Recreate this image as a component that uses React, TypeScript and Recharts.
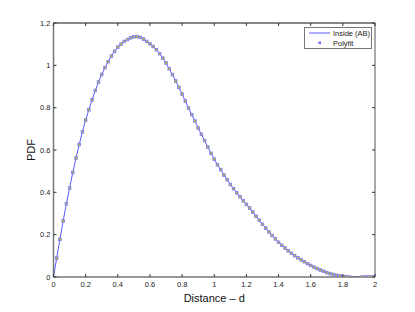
import React from "react";
import { LineChart, Line, XAxis, YAxis } from "recharts";

const distances: number[] = Array.from({ length: 101 }, (_, i) => Math.round(i * 2) / 100);

const insideAB: number[] = [
  0, 0.09, 0.178, 0.265, 0.346, 0.42, 0.494, 0.562, 0.626, 0.686,
  0.742, 0.79, 0.837, 0.881, 0.921, 0.957, 0.989, 1.017, 1.044, 1.066,
  1.086, 1.1, 1.113, 1.122, 1.13, 1.135, 1.136, 1.132, 1.124, 1.113,
  1.102, 1.089, 1.074, 1.055, 1.034, 1.011, 0.984, 0.956, 0.926, 0.896,
  0.864, 0.831, 0.798, 0.767, 0.737, 0.704, 0.674, 0.644, 0.614, 0.584,
  0.557, 0.53, 0.507, 0.482, 0.46, 0.437, 0.417, 0.398, 0.379, 0.36,
  0.343, 0.326, 0.307, 0.287, 0.268, 0.249, 0.231, 0.213, 0.196, 0.18,
  0.164, 0.15, 0.137, 0.124, 0.112, 0.101, 0.091, 0.081, 0.072, 0.063,
  0.055, 0.047, 0.04, 0.033, 0.027, 0.021, 0.016, 0.012, 0.008, 0.005,
  0.003, 0.001, 0, 0, 0, 0, 0, 0, 0, 0, 0,
];

const polyfit: (number | null)[] = [
  null, 0.09, 0.178, 0.265, 0.346, 0.42, 0.494, 0.562, 0.626, 0.686,
  0.742, 0.79, 0.837, 0.881, 0.921, 0.957, 0.989, 1.017, 1.044, 1.066,
  1.086, 1.1, 1.113, 1.122, 1.13, 1.135, 1.136, 1.132, 1.124, 1.113,
  1.102, 1.089, 1.074, 1.055, 1.034, 1.011, 0.984, 0.956, 0.926, 0.896,
  0.864, 0.831, 0.798, 0.767, 0.737, 0.704, 0.674, 0.644, 0.614, 0.584,
  0.557, 0.53, 0.507, 0.482, 0.46, 0.437, 0.417, 0.398, 0.379, 0.36,
  0.343, 0.326, 0.307, 0.287, 0.268, 0.249, 0.231, 0.213, 0.196, 0.18,
  0.164, 0.15, 0.137, 0.124, 0.112, 0.101, 0.091, 0.081, 0.072, 0.063,
  0.055, 0.047, 0.04, 0.033, 0.027, 0.021, 0.016, 0.012, 0.008, 0.005,
  0.003, 0.001, 0, null, null, null, 0, 0, 0, 0, 0,
];

const xTicks: number[] = [0, 0.2, 0.4, 0.6, 0.8, 1, 1.2, 1.4, 1.6, 1.8, 2];
const yTicks: number[] = [0, 0.2, 0.4, 0.6, 0.8, 1, 1.2];
const seriesNames: string[] = ["Inside (AB)", "Polyfit"];

const data = distances.map((d, i) => ({ d, inside: insideAB[i], polyfit: polyfit[i] }));

const FONT = "'Liberation Sans', Arial, Helvetica, sans-serif";
const AXIS = "#333";
const LINE = "#5a5aff";
const TICK_LEN = 3;

const BottomTick = (props: any) => {
  const { x, y, payload } = props;
  return (
    <g>
      <line x1={x} x2={x} y1={y} y2={y - TICK_LEN} stroke={AXIS} />
      <text x={x} y={y + 10} textAnchor="middle" fontSize={7.5} fontFamily={FONT} fill="#222">
        {String(payload.value)}
      </text>
    </g>
  );
};

const LeftTick = (props: any) => {
  const { x, y, payload } = props;
  return (
    <g>
      <line x1={x} x2={x + TICK_LEN} y1={y} y2={y} stroke={AXIS} />
      <text x={x - 3} y={y + 2.7} textAnchor="end" fontSize={7.5} fontFamily={FONT} fill="#222">
        {String(payload.value)}
      </text>
    </g>
  );
};

const TopTick = (props: any) => {
  const { x, y } = props;
  return <line x1={x} x2={x} y1={y} y2={y + TICK_LEN} stroke={AXIS} />;
};

const RightTick = (props: any) => {
  const { x, y } = props;
  return <line x1={x} x2={x - TICK_LEN} y1={y} y2={y} stroke={AXIS} />;
};

const MarkerDot = (props: any) => {
  const { cx, cy, payload } = props;
  if (cx == null || cy == null || payload == null || payload.polyfit == null) return null;
  return (
    <rect
      key={`m-${cx}`}
      x={cx - 1.3}
      y={cy - 1.3}
      width={2.6}
      height={2.6}
      fill="#b8b830"
      stroke="#7a7aff"
      strokeWidth={0.8}
    />
  );
};

const LegendBox = () => (
  <div
    style={{
      position: "absolute",
      left: 304,
      top: 27,
      width: 68,
      height: 22,
      border: "1px solid #777",
      background: "#fff",
      boxSizing: "border-box",
    }}
  >
    <svg width={66} height={20} style={{ position: "absolute", left: 0, top: 0 }}>
      <line x1={4} x2={25} y1={5} y2={5} stroke={LINE} strokeWidth={1} />
      <rect x={13.5} y={13.5} width={2.5} height={2.5} fill="#6c6cff" />
      <text x={28} y={7.8} fontSize={7.5} fontFamily={FONT} fill="#222">{seriesNames[0]}</text>
      <text x={28} y={17.6} fontSize={7.5} fontFamily={FONT} fill="#222">{seriesNames[1]}</text>
    </svg>
  </div>
);

export default function App() {
  return (
    <div style={{ position: "absolute", left: 0, top: 0, width: 415, height: 312, background: "#fff" }}>
      <LineChart width={415} height={312} data={data} margin={{ top: 22, right: 39, bottom: 0, left: 0 }}>
        <XAxis
          dataKey="d"
          type="number"
          domain={[0, 2]}
          ticks={xTicks}
          interval={0}
          height={35}
          tickSize={0}
          tickMargin={0}
          tickLine={false}
          tick={<BottomTick />}
          axisLine={{ stroke: AXIS }}
          allowDataOverflow
          label={{ value: "Distance \u2013 d", position: "insideBottom", offset: 10, fontSize: 11, fontFamily: FONT, fill: "#111" }}
        />
        <XAxis
          xAxisId="top"
          dataKey="d"
          type="number"
          orientation="top"
          domain={[0, 2]}
          ticks={xTicks}
          interval={0}
          height={1}
          tickSize={0}
          tickMargin={0}
          tickLine={false}
          tick={<TopTick />}
          axisLine={{ stroke: "#111" }}
          allowDataOverflow
        />
        <YAxis
          type="number"
          domain={[0, 1.2]}
          ticks={yTicks}
          interval={0}
          width={53.5}
          tickSize={0}
          tickMargin={0}
          tickLine={false}
          tick={<LeftTick />}
          axisLine={{ stroke: "#777", strokeWidth: 1.5 }}
          allowDataOverflow
          label={{ value: "PDF", angle: -90, position: "insideLeft", offset: 31, fontSize: 11, fontFamily: FONT, fill: "#111", style: { textAnchor: "middle" } }}
        />
        <YAxis
          yAxisId="r"
          type="number"
          orientation="right"
          domain={[0, 1.2]}
          ticks={yTicks}
          interval={0}
          width={1}
          tickSize={0}
          tickMargin={0}
          tickLine={false}
          tick={<RightTick />}
          axisLine={{ stroke: "#555" }}
          allowDataOverflow
        />
        <Line
          xAxisId="top"
          yAxisId="r"
          dataKey="inside"
          stroke="none"
          dot={false}
          activeDot={false}
          isAnimationActive={false}
          legendType="none"
        />
        <Line
          dataKey="inside"
          name={seriesNames[0]}
          stroke={LINE}
          strokeWidth={1}
          dot={false}
          isAnimationActive={false}
          type="linear"
        />
        <Line
          dataKey="polyfit"
          name={seriesNames[1]}
          stroke="none"
          dot={<MarkerDot />}
          activeDot={false}
          isAnimationActive={false}
          connectNulls={false}
          type="linear"
        />
      </LineChart>
      <LegendBox />
    </div>
  );
}
